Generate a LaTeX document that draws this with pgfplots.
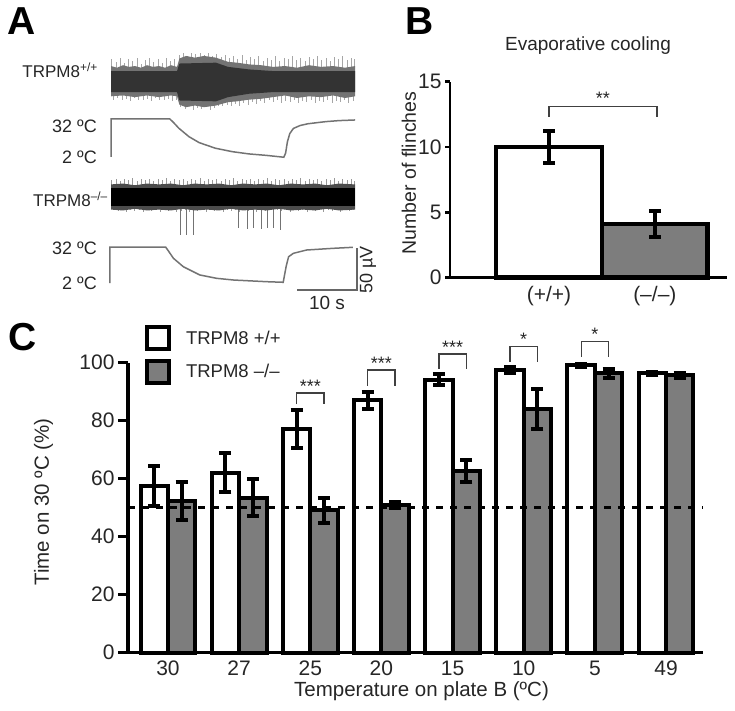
\documentclass[border=0pt]{standalone}
\usepackage{pgfplots}
\pgfplotsset{compat=1.18}
\usepackage{fontspec}
\setmainfont{Liberation Sans}
\definecolor{kogray}{RGB}{125,125,125}
\definecolor{txt}{RGB}{38,38,38}
\newcommand{\fs}[1]{\fontsize{#1}{#1}\selectfont}
\pgfplotsset{
  errs/.style={forget plot, only marks, mark=none,
    error bars/.cd, y dir=both, y explicit, error mark=-,
    error bar style={line width=#1, black, solid},
    error mark options={rotate=90, line width=#1, mark size=6pt, black, solid}},
}
\begin{document}
\begin{tikzpicture}
\useasboundingbox (0pt,0pt) rectangle (735pt,-710pt);
% panel letters
\node[anchor=north west, inner sep=0pt, font=\fs{39}\bfseries] at (7pt,-7pt) {A};
\node[anchor=north west, inner sep=0pt, font=\fs{39}\bfseries] at (405pt,-7pt) {B};
\node[anchor=north west, inner sep=0pt, font=\fs{39}\bfseries] at (8pt,-323pt) {C};

% ---------- A: nerve recordings ----------
\begin{axis}[at={(111pt,-115.6pt)}, anchor=south west, scale only axis,
  width=246pt, height=67.2pt, xmin=0, xmax=41, ymin=-40, ymax=40,
  hide axis, clip=false]
\addplot[ycomb, no markers, black!35, line width=0.5pt] coordinates {
 (0.1,27)(0.4,-21)(0.8,24)(1.1,-19)(1.5,29)(1.8,-22)(2.2,23)(2.5,-20)(2.9,27)(3.2,-23)
 (3.6,25)(3.9,-19)(4.3,28)(4.6,-21)(5.0,22)(5.3,-22)(5.7,26)(6.0,-20)(6.4,29)(6.7,-23)
 (7.1,24)(7.4,-19)(7.8,27)(8.1,-21)(8.5,23)(8.8,-22)(9.2,28)(9.5,-20)(9.9,25)(10.2,-23)
 (10.6,27)(10.9,-21)(11.3,32)(11.6,-30)(12.0,34)(12.3,-32)(12.7,31)(13.0,-29)(13.4,35)(13.7,-33)
 (14.1,33)(14.4,-31)(14.8,34)(15.1,-32)(15.5,32)(15.8,-30)(16.2,35)(16.5,-33)(16.9,31)(17.2,-31)
 (17.6,33)(17.9,-29)(18.3,30)(18.6,-28)(19.0,32)(19.3,-27)(19.7,28)(20.0,-29)(20.4,31)(20.7,-26)
 (21.1,27)(21.4,-28)(21.8,32)(22.1,-25)(22.5,26)(22.8,-27)(23.2,30)(23.5,-24)(23.9,27)(24.2,-26)
 (24.6,31)(24.9,-23)(25.3,25)(25.6,-25)(26.0,29)(26.3,-22)(26.7,26)(27.0,-24)(27.4,31)(27.7,-22)
 (28.1,25)(28.4,-25)(28.8,29)(29.1,-23)(29.5,27)(29.8,-24)(30.2,31)(30.5,-22)(30.9,26)(31.2,-25)
 (31.6,29)(31.9,-23)(32.3,25)(32.6,-24)(33.0,30)(33.3,-22)(33.7,27)(34.0,-25)(34.4,31)(34.7,-23)
 (35.1,26)(35.4,-24)(35.8,29)(36.1,-22)(36.5,25)(36.8,-25)(37.2,30)(37.5,-23)(37.9,27)(38.2,-24)
 (38.6,31)(38.9,-22)(39.3,26)(39.6,-25)(40.0,29)(40.3,-23)(40.6,27)};
\addplot[fill=black!55, draw=none] coordinates {
 (0,19)(1,17)(2,20)(3,18)(4,19)(5,17)(6,20)(7,18)(8,19)(9,17)(10,20)(11.0,18)
 (11.4,28)(12.5,31)(14,29)(15.5,31)(17.5,29)(19.5,24)(21,23)(23,21)(25,20)(27,18)
 (29,19)(31,17)(33,20)(35,18)(37,19)(39,17)(40.7,19)
 (40.7,-17)(39,-19)(37,-16)(35,-18)(33,-17)(31,-19)(29,-16)(27,-18)(25,-20)(23,-21)(21,-23)
 (19.5,-24)(17.5,-28)(15.5,-30)(14,-28)(12.5,-30)(11.4,-27)(11.0,-17)(10,-16)(8,-18)
 (6,-16)(4,-18)(2,-16)(0,-17)} -- cycle;
\addplot[fill=black!80, draw=none] coordinates {
 (0,13)(11.0,13)(11.4,22)(17.5,23)(19.5,18)(23,15)(27,13)(40.7,13)
 (40.7,-12)(27,-12)(23,-14)(19.5,-18)(17.5,-23)(11.4,-22)(11.0,-12)(0,-12)} -- cycle;
\end{axis}

\begin{axis}[at={(111pt,-159.5pt)}, anchor=south west, scale only axis,
  width=246pt, height=43.08pt, xmin=0, xmax=41, ymin=0, ymax=34,
  hide axis, clip=false]
\addplot[no markers, black!55, line width=1.5pt] coordinates {
 (0,2)(0,32)(9.8,32)(10.4,29.3)(11.3,24.7)(13,18)(14.7,13.3)(17.4,8.9)(20.2,6.2)
 (23,4.4)(25.8,3.3)(28.8,1.8)(29.1,5)(29.4,14)(29.8,20.5)(30.4,24.5)(31.5,26.8)
 (32.8,28.2)(35.8,29.9)(38,30.7)(40.7,31.2)};
\end{axis}

\begin{axis}[at={(111pt,-239pt)}, anchor=south west, scale only axis,
  width=246pt, height=75.6pt, xmin=0, xmax=41, ymin=-50, ymax=40,
  hide axis, clip=false]
\addplot[ycomb, no markers, black!40, line width=0.5pt] coordinates {
 (0.1,20)(0.45,-16)(0.8,22)(1.15,-17)(1.5,19)(1.85,-15)(2.2,21)(2.55,-18)(2.9,20)(3.25,-16)
 (3.6,23)(3.95,-17)(4.3,19)(4.65,-15)(5.0,21)(5.35,-18)(5.7,20)(6.05,-16)(6.4,22)(6.75,-17)
 (7.1,19)(7.45,-15)(7.8,21)(8.15,-18)(8.5,20)(8.85,-16)(9.2,23)(9.55,-17)(9.9,19)(10.25,-15)
 (10.6,21)(10.95,-18)(11.3,20)(11.65,-17)(12.0,22)(12.35,-16)(12.7,19)(13.05,-18)(13.4,21)(13.75,-15)
 (14.1,20)(14.45,-17)(14.8,23)(15.15,-16)(15.5,19)(15.85,-18)(16.2,21)(16.55,-15)(16.9,20)(17.25,-17)
 (17.6,22)(17.95,-16)(18.3,19)(18.65,-18)(19.0,21)(19.35,-15)(19.7,20)(20.05,-17)(20.4,23)(20.75,-16)
 (21.1,19)(21.45,-18)(21.8,21)(22.15,-15)(22.5,20)(22.85,-17)(23.2,22)(23.55,-16)(23.9,19)(24.25,-18)
 (24.6,21)(24.95,-15)(25.3,20)(25.65,-17)(26.0,23)(26.35,-16)(26.7,19)(27.05,-18)(27.4,21)(27.75,-15)
 (28.1,20)(28.45,-17)(28.8,22)(29.15,-16)(29.5,19)(29.85,-18)(30.2,21)(30.55,-15)(30.9,20)(31.25,-17)
 (31.6,23)(31.95,-16)(32.3,19)(32.65,-18)(33.0,21)(33.35,-15)(33.7,20)(34.05,-17)(34.4,22)(34.75,-16)
 (35.1,19)(35.45,-18)(35.8,21)(36.15,-15)(36.5,20)(36.85,-17)(37.2,23)(37.55,-16)(37.9,19)(38.25,-18)
 (38.6,21)(38.95,-15)(39.3,20)(39.65,-17)(40.0,22)(40.35,-16)(40.6,19)};
\addplot[ycomb, no markers, black!55, line width=0.9pt] coordinates {
 (11.5,-45)(12.5,-45)(13.7,-45)(21.2,-37)(22.7,-38)(23.7,-37)(25,-38)(26,-37)(27,-37)(28.3,-39)};
\addplot[fill=black!70, draw=none] coordinates {
 (0,15)(2,16)(4,14)(6,16)(8,15)(10,16)(12,14)(14,16)(16,15)(18,16)(20,14)(22,16)(24,15)
 (26,16)(28,14)(30,16)(32,15)(34,16)(36,14)(38,16)(40.7,15)
 (40.7,-15)(38,-16)(36,-14)(34,-16)(32,-15)(30,-16)(28,-14)(26,-16)(24,-15)(22,-16)
 (20,-14)(18,-16)(16,-15)(14,-16)(12,-14)(10,-16)(8,-15)(6,-16)(4,-14)(2,-16)(0,-15)} -- cycle;
\addplot[fill=black, draw=none] coordinates {
 (0,11)(40.7,11)(40.7,-11)(0,-11)} -- cycle;
\end{axis}

\begin{axis}[at={(111pt,-291.4pt)}, anchor=south west, scale only axis,
  width=246pt, height=46.8pt, xmin=0, xmax=41, ymin=-5, ymax=34,
  hide axis, clip=false]
\addplot[no markers, black!55, line width=1.5pt] coordinates {
 (-0.2,2)(-0.2,32)(9.1,32)(9.6,28.5)(10.4,22.6)(12.05,15.6)(14.8,8.7)(17.6,5.9)(20.4,4.5)
 (25.9,3.1)(28.7,2.6)(28.9,8)(29.2,16)(29.6,23.9)(30.4,26.75)(32.6,29.5)(37,30.9)(40.3,31.75)};
% scale bar: 10 s, 50 uV
\addplot[no markers, black!60, line width=1.5pt] coordinates {(31,-3.8)(41,-3.8)(41,31.2)};
\end{axis}

\begin{scope}[text=txt]
\node[anchor=east, inner sep=0pt, font=\fs{17}] at (98pt,-70pt) {TRPM8\textsuperscript{+/+}};
\node[anchor=east, inner sep=0pt, font=\fs{18}] at (97pt,-126pt) {32 ºC};
\node[anchor=east, inner sep=0pt, font=\fs{18}] at (97pt,-157pt) {2 ºC};
\node[anchor=east, inner sep=0pt, font=\fs{17}] at (108pt,-199pt) {TRPM8\textsuperscript{--/--}};
\node[anchor=east, inner sep=0pt, font=\fs{18}] at (97pt,-248pt) {32 ºC};
\node[anchor=east, inner sep=0pt, font=\fs{18}] at (97pt,-283pt) {2 ºC};
\node[inner sep=0pt, font=\fs{19}] at (327pt,-303pt) {10 s};
\node[rotate=90, inner sep=0pt, font=\fs{18}] at (368pt,-270pt) {50 µV};
\end{scope}

% ---------- B: evaporative cooling ----------
\node[text=txt, font=\fs{19}] at (588pt,-46pt) {Evaporative cooling};
\node[text=txt, rotate=90, font=\fs{19.5}] at (409pt,-173pt) {Number of flinches};
\begin{axis}[at={(450pt,-277.7pt)}, anchor=south west, scale only axis,
  width=277pt, height=196pt, xmin=0.0643, xmax=2.682, ymin=0, ymax=15,
  axis x line=bottom, axis y line=left,
  axis line style={-, line width=2.7pt, black},
  ytick={0,5,10,15}, xtick={1,2}, xticklabels={(+/+),(--/--)},
  x tick style={draw=none}, tick align=outside,
  y tick style={line width=2.7pt, black}, major tick length=5pt,
  tick label style={font=\fs{21}, text=txt},
  /pgf/number format/assume math mode=true,
  clip=false]
\addplot[ybar, bar width=1, bar shift=0, fill=white, draw=black, line width=4.7pt]
  coordinates {(1,10)};
\addplot[ybar, bar width=1, bar shift=0, fill=kogray, draw=black, line width=4.7pt]
  coordinates {(2,4.1)};
\addplot[errs=4.2pt] coordinates {(1,10) +- (0,1.2) (2,4.1) +- (0,1.0)};
\addplot[no markers, black!75, line width=1.3pt] coordinates {(1,12.3)(1,13.1)(2.02,13.1)(2.02,12.3)};
\node[anchor=base, font=\fs{18}, text=txt] at (axis cs:1.51,13.25) {**};
\end{axis}

% ---------- C: two-plate preference ----------
\node[text=txt, rotate=90, font=\fs{20.5}] at (43.5pt,-502pt) {Time on 30 ºC (\%)};
\node[text=txt, font=\fs{20.5}] at (421.5pt,-691pt) {Temperature on plate B (ºC)};
\begin{axis}[at={(128pt,-652.7pt)}, anchor=south west, scale only axis,
  width=575pt, height=290pt, xmin=-0.562, xmax=7.52, ymin=0, ymax=100,
  axis x line=bottom, axis y line=left,
  axis line style={-, line width=3.3pt, black},
  ytick={0,20,...,100}, xtick={0,...,7}, xticklabels={30,27,25,20,15,10,5,49},
  x tick style={draw=none}, tick align=outside,
  y tick style={line width=3.3pt, black}, major tick length=10pt,
  tick label style={font=\fs{21}, text=txt},
  xticklabel style={yshift=5pt},
  /pgf/number format/assume math mode=true,
  legend style={at={(0.024,1.137)}, anchor=north west, draw=none, fill=none,
    font=\fs{18.5}, text=txt, row sep=7.5pt},
  legend cell align=left,
  clip=false]
\addplot[ybar, bar width=0.385, bar shift=0, fill=white, draw=black, line width=4pt,
  legend image code/.code={\draw[black, fill=white, line width=4pt] (-11pt,-11pt) rectangle (11pt,11pt); \path (24pt,0pt);}]
  coordinates {(-0.1925,57.5) (0.8075,62) (1.8075,77.1) (2.8075,87)
   (3.8075,94.2) (4.8075,97.5) (5.8075,99.1) (6.8075,96.3)};
\addlegendentry{TRPM8 +/+}
\addplot[ybar, bar width=0.385, bar shift=0, fill=kogray, draw=black, line width=4pt,
  legend image code/.code={\draw[black, fill=kogray, line width=4pt] (-11pt,-11pt) rectangle (11pt,11pt); \path (24pt,0pt);}]
  coordinates {(0.1925,52.4) (1.1925,53.5) (2.1925,49.1) (3.1925,50.8)
   (4.1925,62.7) (5.1925,84) (6.1925,96.3) (7.1925,95.6)};
\addlegendentry{TRPM8 --/--}
\addplot[forget plot, no markers, black, line width=3pt, dash pattern=on 7pt off 7pt]
  coordinates {(-0.562,50)(7.52,50)};
\addplot[errs=4pt] coordinates {(-0.1925,57.5) +- (0,7) (0.8075,62) +- (0,6.7)
   (1.8075,77.1) +- (0,6.5) (2.8075,87) +- (0,2.8) (3.8075,94.2) +- (0,1.8)
   (4.8075,97.5) +- (0,1) (5.8075,99.1) +- (0,0.5) (6.8075,96.3) +- (0,0.6)};
\addplot[errs=4pt] coordinates {(0.1925,52.4) +- (0,6.6) (1.1925,53.5) +- (0,6.4)
   (2.1925,49.1) +- (0,4.2) (3.1925,50.8) +- (0,1) (4.1925,62.7) +- (0,3.7)
   (5.1925,84) +- (0,6.8) (6.1925,96.3) +- (0,1.6) (7.1925,95.6) +- (0,1)};
% significance brackets
\addplot[forget plot, no markers, black!75, line width=1.3pt] coordinates {(1.8075,85.7)(1.8075,89.6)(2.1925,89.6)(2.1925,85.7)};
\addplot[forget plot, no markers, black!75, line width=1.3pt] coordinates {(2.8075,92)(2.8075,97.5)(3.1925,97.5)(3.1925,92)};
\addplot[forget plot, no markers, black!75, line width=1.3pt] coordinates {(3.8075,98)(3.8075,103)(4.1925,103)(4.1925,98)};
\addplot[forget plot, no markers, black!75, line width=1.3pt] coordinates {(4.8075,100.3)(4.8075,105.5)(5.1925,105.5)(5.1925,100.3)};
\addplot[forget plot, no markers, black!75, line width=1.3pt] coordinates {(5.8075,102)(5.8075,107.2)(6.1925,107.2)(6.1925,102)};
\node[anchor=base, font=\fs{18}, text=txt] at (axis cs:2,89.9) {***};
\node[anchor=base, font=\fs{18}, text=txt] at (axis cs:3,97.8) {***};
\node[anchor=base, font=\fs{18}, text=txt] at (axis cs:4,103.3) {***};
\node[anchor=base, font=\fs{18}, text=txt] at (axis cs:5,105.8) {*};
\node[anchor=base, font=\fs{18}, text=txt] at (axis cs:6,107.5) {*};
\end{axis}
\end{tikzpicture}
\end{document}
